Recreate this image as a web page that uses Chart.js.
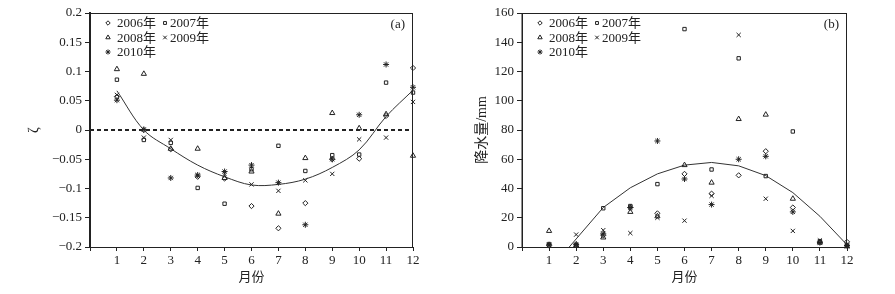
<!DOCTYPE html>
<html>
<head>
<meta charset="utf-8">
<script src="https://cdn.jsdelivr.net/npm/chart.js@4/dist/chart.umd.min.js"></script>
<style>
  html, body { margin: 0; padding: 0; background: #fff; }
  .box { position: absolute; top: 0; height: 294px; }
  #left { left: 0; width: 450px; }
  #right { left: 450px; width: 445px; }
</style>
</head>
<body>
<div class="box" id="left"><canvas id="zeta-chart" width="450" height="294"></canvas></div>
<div class="box" id="right"><canvas id="rain-chart" width="445" height="294"></canvas></div>
<script>
const months = [1, 2, 3, 4, 5, 6, 7, 8, 9, 10, 11, 12];
const years = ['2006年', '2007年', '2008年', '2009年', '2010年'];

// (a) zeta by month
const zeta2006 = [0.057, 0.000, -0.033, -0.080, -0.083, -0.130, -0.168, -0.125, -0.050, -0.049, 0.024, 0.106];
const zeta2007 = [0.086, -0.017, -0.022, -0.099, -0.126, -0.067, -0.027, -0.070, -0.043, -0.042, 0.081, 0.064];
const zeta2008 = [0.104, 0.096, -0.032, -0.032, -0.082, -0.071, -0.143, -0.048, 0.029, 0.003, 0.027, -0.044];
const zeta2009 = [0.060, -0.013, -0.017, -0.078, -0.075, -0.093, -0.104, -0.086, -0.075, -0.016, -0.013, 0.048];
const zeta2010 = [0.051, 0.001, -0.082, -0.077, -0.071, -0.060, -0.090, -0.162, -0.050, 0.026, 0.112, 0.073];
const zetaTrend = [0.067, 0.000, -0.032, -0.060, -0.080, -0.094, -0.093, -0.084, -0.064, -0.034, 0.023, 0.068];
const zetaTicks = [0.2, 0.15, 0.1, 0.05, 0, -0.05, -0.1, -0.15, -0.2];

// (b) precipitation by month, mm
const rain2006 = [1, 2, 8, 27, 23, 50, 36.5, 49, 65.5, 27, 3.5, 3.5];
const rain2007 = [2, 1, 26.5, 28, 43, 149, 53, 129, 48.5, 79, 4, 1];
const rain2008 = [11, 1, 6.5, 24, 21, 56, 44, 87.5, 90.5, 33, 3, 0.5];
const rain2009 = [1, 8.5, 11.5, 9.5, 20, 18, 35, 145, 33, 11, 4.5, 0.5];
const rain2010 = [1.5, 1.5, 9, 27, 72.5, 46.5, 29, 60, 62, 24, 3, 1];
const rainTrend = [-16, 5.5, 27, 40.5, 50, 56, 57.8, 55.5, 48.8, 37.2, 21, 1.5];

const FONT = "'Liberation Serif', 'Noto Sans CJK SC', serif";
const INK = '#222';
const styles = ['rectRot', 'rect', 'triangle', 'crossRot', 'star'];
const radii = [2.6, 2.4, 3, 3, 3];

const toPts = arr => months.map((m, i) => ({ x: m, y: arr[i] }));

const pointSets = (series) => series.map((arr, i) => ({
    type: 'scatter',
    label: years[i],
    data: toPts(arr),
    pointStyle: styles[i],
    pointRadius: radii[i],
    pointBorderColor: INK,
    pointBackgroundColor: 'rgba(0,0,0,0)',
    pointBorderWidth: 1,
    clip: false
}));

const trendSet = (arr, tension) => ({
    type: 'line',
    data: toPts(arr),
    borderColor: '#333',
    borderWidth: 1,
    pointRadius: 0,
    tension: tension,
    fill: false
});

// frame, legend text and panel tag
const extras = {
    id: 'extras',
    afterDraw(chart, args, opts) {
        const ctx = chart.ctx;
        const a = chart.chartArea;
        ctx.save();
        ctx.strokeStyle = INK;
        ctx.lineWidth = 1;
        ctx.strokeRect(a.left, a.top + 0.5, a.right - a.left - 0.5, a.bottom - a.top);
        if (opts.zeroLine) {
            const y = chart.scales.y.getPixelForValue(0);
            ctx.setLineDash([4, 3]);
            ctx.lineWidth = 2;
            ctx.beginPath();
            ctx.moveTo(a.left, y);
            ctx.lineTo(a.right, y);
            ctx.stroke();
            ctx.setLineDash([]);
        }
        ctx.font = '13px ' + FONT;
        ctx.textBaseline = 'middle';
        const rows = [[0, 1], [2, 3], [4]];
        rows.forEach((row, r) => {
            row.forEach((k, c) => {
                const mx = a.left + 18 + c * 57;
                const my = a.top + 10 + r * 14.5;
                ctx.lineWidth = 1;
                ctx.fillStyle = 'rgba(0,0,0,0)';
                Chart.helpers.drawPoint(ctx, { pointStyle: styles[k], radius: radii[k] * 0.85, rotation: 0, borderWidth: 1 }, mx, my);
                ctx.fillStyle = INK;
                ctx.fillText(years[k], mx + (c ? 5 : 9), my + 1);
            });
        });
        ctx.fillStyle = INK;
        ctx.textAlign = 'right';
        ctx.fillText(opts.tag, a.right - 8, a.top + 12);
        ctx.restore();
    }
};

const xScale = (title) => ({
    type: 'linear',
    min: 0,
    max: 12,
    afterBuildTicks: s => { s.ticks = [0, 1, 2, 3, 4, 5, 6, 7, 8, 9, 10, 11, 12].map(v => ({ value: v })); },
    afterFit: s => { s.height = 47; },
    border: { display: true, color: INK, width: 1 },
    grid: { display: true, drawOnChartArea: false, drawTicks: true, tickLength: 4, color: INK },
    ticks: {
        color: INK, font: { family: FONT, size: 13 }, padding: 2, maxRotation: 0,
        callback: v => v === 0 ? '' : String(v)
    },
    title: { display: true, text: title, color: INK, font: { family: FONT, size: 13 }, padding: { top: 0, bottom: 9 } }
});

const zetaChart = new Chart(document.getElementById('zeta-chart').getContext('2d'), {
    data: {
        datasets: [...pointSets([zeta2006, zeta2007, zeta2008, zeta2009, zeta2010]), trendSet(zetaTrend, 0.35)]
    },
    options: {
        responsive: false,
        animation: false,
        layout: { padding: { left: 0, right: 37, top: 13, bottom: 0 } },
        plugins: { legend: { display: false }, tooltip: { enabled: false }, extras: { zeroLine: true, tag: '(a)' } },
        scales: {
            x: xScale('月份'),
            y: {
                min: -0.2,
                max: 0.2,
                afterBuildTicks: s => { s.ticks = zetaTicks.map(v => ({ value: v })); },
                afterFit: s => { s.width = 90; },
                border: { display: true, color: INK, width: 2 },
                grid: { display: true, drawOnChartArea: false, drawTicks: true, tickLength: 5, color: INK },
                ticks: {
                    color: INK, font: { family: FONT, size: 13 }, padding: 3,
                    callback: v => (v < 0 ? '\u2212' : '') + String(Math.abs(Math.round(v * 100) / 100))
                },
                title: { display: true, text: 'ζ', color: INK, font: { family: FONT, size: 14 }, padding: { top: 26, bottom: 0 } }
            }
        }
    },
    plugins: [extras]
});

const rainChart = new Chart(document.getElementById('rain-chart').getContext('2d'), {
    data: {
        datasets: [...pointSets([rain2006, rain2007, rain2008, rain2009, rain2010]), trendSet(rainTrend, 0)]
    },
    options: {
        responsive: false,
        animation: false,
        layout: { padding: { left: 0, right: 48, top: 13, bottom: 0 } },
        plugins: { legend: { display: false }, tooltip: { enabled: false }, extras: { zeroLine: false, tag: '(b)' } },
        scales: {
            x: xScale('月份'),
            y: {
                min: 0,
                max: 160,
                ticks: { stepSize: 20, color: INK, font: { family: FONT, size: 13 }, padding: 3 },
                afterFit: s => { s.width = 72; },
                border: { display: true, color: INK, width: 1 },
                grid: { display: true, drawOnChartArea: false, drawTicks: true, tickLength: 5, color: INK },
                title: { display: true, text: '降水量/mm', color: INK, font: { family: FONT, size: 14 }, padding: { top: 24, bottom: 0 } }
            }
        }
    },
    plugins: [extras]
});
</script>
</body>
</html>
